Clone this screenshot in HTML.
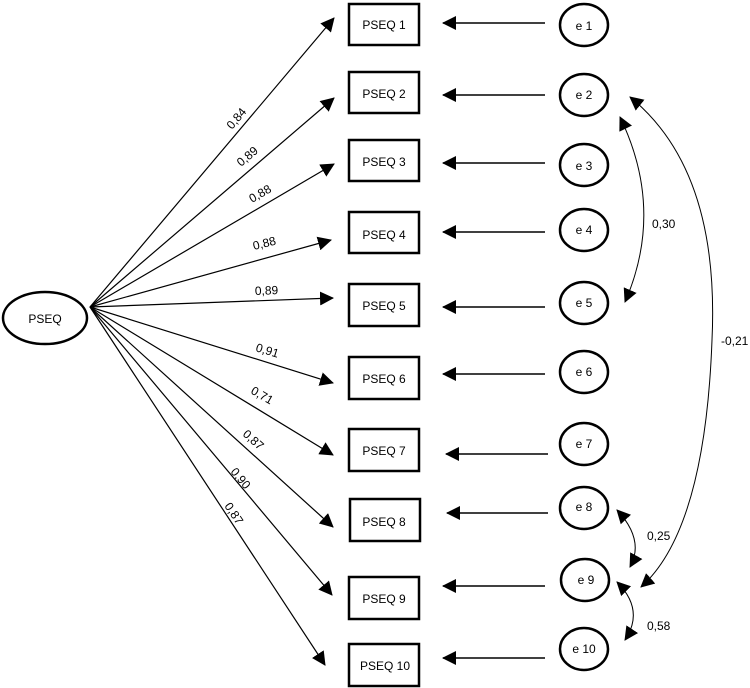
<!DOCTYPE html>
<html><head><style>body{margin:0;background:#fff}svg{display:block}text{font-family:"Liberation Sans",sans-serif;font-size:12px;fill:#000}</style></head>
<body>
<svg width="750" height="688" viewBox="0 0 750 688">
<defs>
<marker id="a" markerWidth="14" markerHeight="14" refX="13" refY="7" orient="auto-start-reverse" markerUnits="userSpaceOnUse" viewBox="0 0 14 14"><path d="M0,0L14,7L0,14z"/></marker>
<marker id="b" markerWidth="14" markerHeight="14" refX="13" refY="7" orient="auto" markerUnits="userSpaceOnUse" viewBox="0 0 14 14"><path d="M0,0L14,7L0,14z"/></marker>
</defs>
<ellipse cx="45" cy="318" rx="42" ry="26" fill="none" stroke="#000" stroke-width="2.5"/>
<text x="45" y="323" text-anchor="middle">PSEQ</text>
<g stroke="#000" stroke-width="1.2" fill="none" marker-end="url(#b)">
<line x1="90" y1="307" x2="334" y2="18"/>
<line x1="90" y1="307" x2="334" y2="98"/>
<line x1="90" y1="307" x2="334" y2="164"/>
<line x1="90" y1="307" x2="331" y2="240"/>
<line x1="90" y1="307" x2="333" y2="298"/>
<line x1="90" y1="307" x2="333" y2="383"/>
<line x1="90" y1="307" x2="333" y2="455"/>
<line x1="90" y1="307" x2="333" y2="527"/>
<line x1="90" y1="307" x2="332" y2="595"/>
<line x1="90" y1="307" x2="325" y2="665"/>
</g>
<g font-size="12">
<text transform="translate(232,130) rotate(-50)">0,84</text>
<text transform="translate(241,167) rotate(-40)">0,89</text>
<text transform="translate(252,203) rotate(-30)">0,88</text>
<text transform="translate(254,250) rotate(-14)">0,88</text>
<text transform="translate(255,295) rotate(-2)">0,89</text>
<text transform="translate(255,351) rotate(17)">0,91</text>
<text transform="translate(250,393) rotate(30)">0,71</text>
<text transform="translate(242,435) rotate(42)">0,87</text>
<text transform="translate(230,472) rotate(50)">0,90</text>
<text transform="translate(224,506) rotate(56)">0,87</text>
</g>
<g fill="#fff" stroke="#000" stroke-width="2.5">
<rect x="349" y="4" width="70" height="41"/>
<rect x="349" y="72" width="70" height="41"/>
<rect x="349" y="140" width="70" height="41"/>
<rect x="349" y="212" width="70" height="41"/>
<rect x="349" y="284" width="70" height="42"/>
<rect x="349" y="357" width="70" height="42"/>
<rect x="349" y="429" width="70" height="42"/>
<rect x="350" y="499" width="70" height="42"/>
<rect x="349" y="577" width="70" height="42"/>
<rect x="349" y="644" width="70" height="42"/>
</g>
<g text-anchor="middle">
<text x="384" y="29">PSEQ 1</text>
<text x="384" y="98">PSEQ 2</text>
<text x="384" y="166">PSEQ 3</text>
<text x="384" y="239">PSEQ 4</text>
<text x="384" y="310">PSEQ 5</text>
<text x="384" y="383">PSEQ 6</text>
<text x="384" y="455">PSEQ 7</text>
<text x="384" y="526">PSEQ 8</text>
<text x="384" y="603">PSEQ 9</text>
<text x="385" y="670">PSEQ 10</text>
</g>
<g stroke="#000" stroke-width="1.5" marker-end="url(#b)">
<line x1="545" y1="23" x2="443" y2="23"/>
<line x1="545" y1="95" x2="443" y2="95"/>
<line x1="545" y1="163" x2="443" y2="163"/>
<line x1="545" y1="232" x2="443" y2="232"/>
<line x1="545" y1="307" x2="443" y2="307"/>
<line x1="545" y1="374" x2="443" y2="374"/>
<line x1="548" y1="454" x2="446" y2="454"/>
<line x1="548" y1="513" x2="447" y2="513"/>
<line x1="545" y1="586" x2="443" y2="586"/>
<line x1="545" y1="658" x2="443" y2="658"/>
</g>
<g fill="#fff" stroke="#000" stroke-width="2.5">
<ellipse cx="584" cy="25" rx="24" ry="21"/>
<ellipse cx="584" cy="95" rx="24" ry="21"/>
<ellipse cx="584" cy="165" rx="24" ry="21"/>
<ellipse cx="584" cy="230" rx="24" ry="21"/>
<ellipse cx="584" cy="303" rx="24" ry="21"/>
<ellipse cx="584" cy="372" rx="24" ry="21"/>
<ellipse cx="584" cy="444" rx="24" ry="21"/>
<ellipse cx="584" cy="508" rx="24" ry="21"/>
<ellipse cx="585" cy="580" rx="24" ry="21"/>
<ellipse cx="584" cy="649" rx="24" ry="21"/>
</g>
<g text-anchor="middle">
<text x="584" y="30">e 1</text>
<text x="584" y="99">e 2</text>
<text x="584" y="170">e 3</text>
<text x="584" y="234">e 4</text>
<text x="584" y="307">e 5</text>
<text x="584" y="376">e 6</text>
<text x="584" y="448">e 7</text>
<text x="584" y="511">e 8</text>
<text x="586" y="584">e 9</text>
<text x="584" y="653">e 10</text>
</g>
<g stroke="#000" stroke-width="1" fill="none" marker-start="url(#a)" marker-end="url(#a)">
<path d="M620,117 Q665,210 625,302"/>
<path d="M630,97 Q720,170 712,340 Q705,530 641,587"/>
<path d="M617,510 Q645,540 630,567"/>
<path d="M617,582 Q645,610 625,640"/>
</g>
<text x="652" y="228">0,30</text>
<text x="721" y="345">-0,21</text>
<text x="647" y="540">0,25</text>
<text x="647" y="630">0,58</text>
</svg>
</body></html>
